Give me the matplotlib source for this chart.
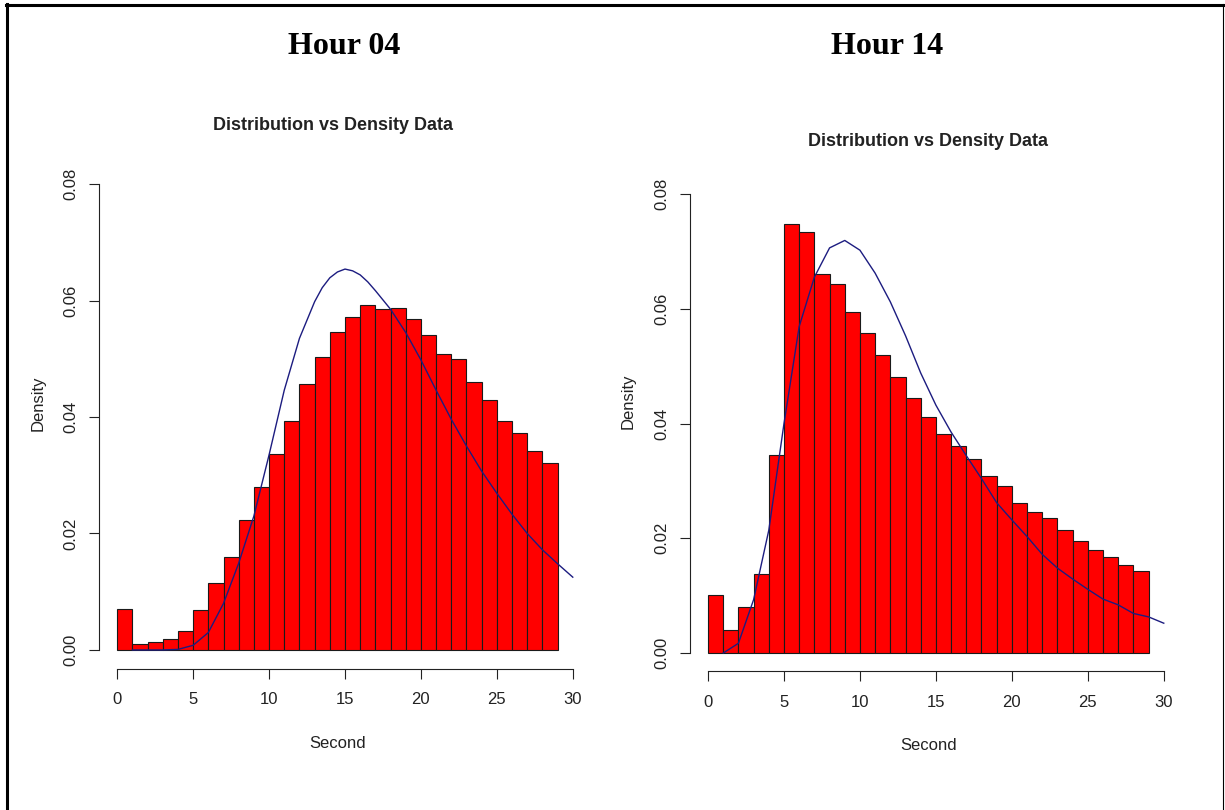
import numpy as np
import matplotlib
matplotlib.use("Agg")
import matplotlib.pyplot as plt
from matplotlib.lines import Line2D

# histogram bins: one-second bins from 0 to 29
bin_edges = np.arange(0, 30)

# histogram densities per bin
h04_density = [0.0071, 0.0010, 0.0013, 0.0018, 0.0033, 0.0069, 0.0115, 0.0160,
               0.0223, 0.0279, 0.0336, 0.0393, 0.0457, 0.0503, 0.0546, 0.0572,
               0.0592, 0.0585, 0.0587, 0.0569, 0.0541, 0.0508, 0.0500, 0.0460,
               0.0429, 0.0393, 0.0373, 0.0341, 0.0321]
h14_density = [0.0102, 0.0041, 0.0081, 0.0138, 0.0345, 0.0747, 0.0733, 0.0661,
               0.0643, 0.0595, 0.0557, 0.0519, 0.0481, 0.0445, 0.0412, 0.0382,
               0.0361, 0.0338, 0.0309, 0.0291, 0.0261, 0.0245, 0.0236, 0.0214,
               0.0196, 0.0179, 0.0167, 0.0154, 0.0143]

# fitted density curves
h04_curve_x = [1, 2, 3, 4, 5, 6, 7, 8, 9, 10, 11, 12, 13, 13.5, 14, 14.5, 15, 15.5,
               16, 16.5, 17, 18, 19, 20, 21, 22, 23, 24, 25, 26, 27, 28, 29, 30]
h04_curve = [0.0, 0.0, 0.0, 0.0001, 0.0008, 0.0030, 0.0080, 0.0149, 0.0230, 0.0335,
             0.0446, 0.0535, 0.0598, 0.0622, 0.0639, 0.0649, 0.0654, 0.0651,
             0.0644, 0.0632, 0.0617, 0.0585, 0.0545, 0.0498,
             0.0446, 0.0396, 0.0350, 0.0307, 0.0269, 0.0233, 0.0200, 0.0172, 0.0148, 0.0125]
h14_curve_x = np.arange(1, 31)
h14_curve = [0.0, 0.0017, 0.0093, 0.0214, 0.0400, 0.0569, 0.0655, 0.0706, 0.0719, 0.0702,
             0.0662, 0.0612, 0.0553, 0.0488, 0.0432, 0.0385, 0.0344, 0.0304, 0.0262, 0.0232,
             0.0203, 0.0172, 0.0148, 0.0129, 0.0111, 0.0094, 0.0084, 0.0069, 0.0063, 0.0052]

x_ticks = [0, 5, 10, 15, 20, 25, 30]
y_ticks = [0.00, 0.02, 0.04, 0.06, 0.08]

W, H = 1225, 810
SANS = ["Liberation Sans Narrow", "Liberation Sans", "DejaVu Sans"]
TXT = "#222222"

fig = plt.figure(figsize=(W / 100, H / 100), dpi=100)
fig.patch.set_facecolor("white")


def fx(px):
    return px / W


def fy(py):
    return 1 - py / H


def panel(rect, heights, cx, cy):
    left, top, right, bottom = rect
    ax = fig.add_axes([fx(left), fy(bottom), fx(right - left), (bottom - top) / H])
    ax.bar(bin_edges[:-1], heights, width=1, align="edge",
           color="#ff0000", edgecolor="#1a1a1a", linewidth=0.8)
    ax.plot(cx, cy, color="#1c1c80", linewidth=1.0)
    ax.set_xlim(-1.2, 31.2)
    ax.set_ylim(-0.0032, 0.0832)
    for s in ["top", "right"]:
        ax.spines[s].set_visible(False)
    ax.spines["left"].set_bounds(0, 0.08)
    ax.spines["bottom"].set_bounds(0, 30)
    for s in ["left", "bottom"]:
        ax.spines[s].set_linewidth(0.8)
        ax.spines[s].set_color("#222222")
    ax.set_xticks(x_ticks)
    ax.set_xticklabels([str(t) for t in x_ticks], family=SANS, fontsize=12, color=TXT)
    ax.set_yticks(y_ticks)
    ax.set_yticklabels(["%.2f" % t for t in y_ticks], family=SANS, fontsize=12,
                       color=TXT, rotation=90, va="center")
    ax.tick_params(axis="both", length=7, width=0.8, color="#222222")
    ax.tick_params(axis="x", pad=10)
    ax.tick_params(axis="y", pad=8)
    ax.set_facecolor("none")
    return ax


panel((99, 165.4, 591, 668.6), h04_density, h04_curve_x, h04_curve)
panel((689.8, 175.6, 1182, 671.4), h14_density, h14_curve_x, h14_curve)

# headings
fig.text(fx(344.5), fy(46), "Hour 04", family=["Liberation Serif"], fontsize=23,
         fontweight="bold", ha="center", va="center")
fig.text(fx(887), fy(46), "Hour 14", family=["Liberation Serif"], fontsize=23,
         fontweight="bold", ha="center", va="center")
fig.text(fx(333), fy(125), "Distribution vs Density Data", family=["Liberation Sans"],
         fontsize=13, fontweight="bold", ha="center", va="center", color=TXT)
fig.text(fx(928), fy(141), "Distribution vs Density Data", family=["Liberation Sans"],
         fontsize=13, fontweight="bold", ha="center", va="center", color=TXT)

# axis labels
fig.text(fx(38), fy(403), "Density", family=SANS, fontsize=12, rotation=90,
         ha="center", va="center", color=TXT)
fig.text(fx(628), fy(401), "Density", family=SANS, fontsize=12, rotation=90,
         ha="center", va="center", color=TXT)
fig.text(fx(338), fy(743), "Second", family=SANS, fontsize=12,
         ha="center", va="center", color=TXT)
fig.text(fx(929), fy(746), "Second", family=SANS, fontsize=12,
         ha="center", va="center", color=TXT)

# frame around the figure (left and top heavier)
fig.add_artist(Line2D([fx(6.5), fx(6.5)], [0, fy(4)], color="black", linewidth=2.2,
                      transform=fig.transFigure))
fig.add_artist(Line2D([fx(5.5), 1], [fy(4.5), fy(4.5)], color="black", linewidth=2.2,
                      transform=fig.transFigure))
fig.add_artist(Line2D([fx(1223), fx(1223)], [0, fy(4)], color="black", linewidth=0.8,
                      transform=fig.transFigure))

fig.savefig("out.png", dpi=100, facecolor="white")
